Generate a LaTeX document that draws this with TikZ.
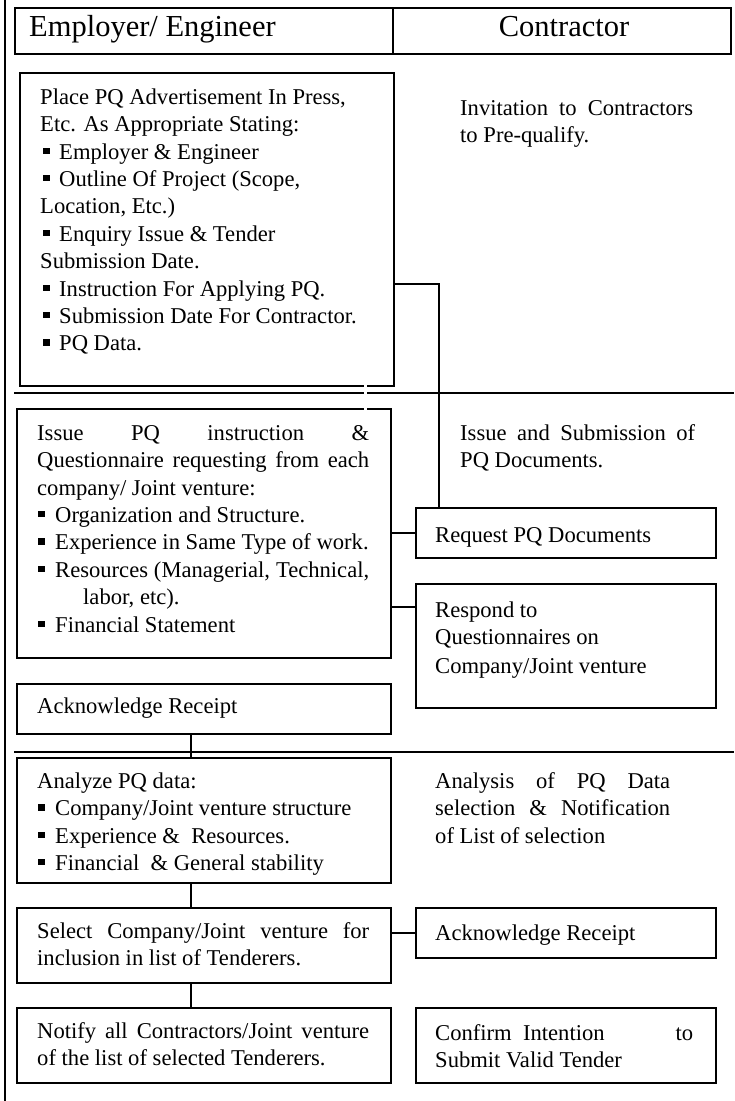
\documentclass[tikz,border=0pt]{standalone}
\usepackage{fontspec}
\setmainfont{Liberation Serif}
\newcommand\bodyf{\fontsize{22.6}{27.4}\selectfont}
\newcommand\headf{\fontsize{30.5}{34}\selectfont}
\newcommand\fl{\rule{0pt}{21pt}}
\newcommand\bua{\hspace*{3pt}\rule[5pt]{6.5pt}{6.5pt}\hspace{9.5pt}}
\newcommand\bub{\hspace*{1pt}\rule[5pt]{6.5pt}{6.5pt}\hspace{10.5pt}}
\newcommand\jl[2]{\makebox[#1pt][s]{#2}}
\begin{document}
\begin{tikzpicture}[x=1pt,y=-1pt,
  box/.style={draw, line width=1.8pt, inner sep=0pt, anchor=north west},
  txt/.style={anchor=north west, inner sep=0pt, align=left, font=\bodyf},
  link/.style={line width=1.8pt}]
\useasboundingbox (0,0) rectangle (734,1101);
\fill[white] (0,0) rectangle (734,1101);
% frame line and separators
\coordinate (fl0) at (5,0);
\coordinate (fl1) at (5,1101);
\draw[link] (fl0) -- (fl1);
\coordinate (s1a) at (14,393);
\coordinate (s1b) at (734,393);
\coordinate (s2a) at (14,752);
\coordinate (s2b) at (734,752);
\draw[link] (s1a) -- (s1b);
\draw[link] (s2a) -- (s2b);
% header
\node[box, minimum width=716pt, minimum height=46pt] (hd) at (14,7) {};
\coordinate (dv) at (393,0);
\draw[link] (hd.north -| dv) -- (hd.south -| dv);
\node[anchor=base west, inner sep=0pt, font=\headf] (h1) at (29,36) {Employer/ Engineer};
\node[anchor=base, inner sep=0pt, font=\headf] (h2) at (564,36) {Contractor};
% boxes
\node[box, minimum width=374pt, minimum height=313pt] (b1) at (19,72) {};
\node[box, minimum width=374pt, minimum height=249pt] (b2) at (16,408) {};
\node[box, minimum width=300pt, minimum height=50pt] (req) at (415,507) {};
\node[box, minimum width=300pt, minimum height=124pt] (resp) at (415,583) {};
\node[box, minimum width=374pt, minimum height=50pt] (ack1) at (16,683) {};
\node[box, minimum width=374pt, minimum height=125pt] (ana) at (16,757) {};
\node[box, minimum width=374pt, minimum height=75pt] (sel) at (16,907) {};
\node[box, minimum width=374pt, minimum height=75pt] (noti) at (16,1007) {};
\node[box, minimum width=300pt, minimum height=50pt] (ack2) at (415,907) {};
\node[box, minimum width=300pt, minimum height=75pt] (conf) at (415,1007) {};
% connectors
\coordinate (c1) at (439,284);
\draw[link] (b1.east |- c1) -- (c1) -- (c1 |- req.north);
\draw[link] (b2.east |- req.west) -- (req.west);
\coordinate (c2) at (415,607);
\draw[link] (b2.east |- c2) -- (resp.west |- c2);
\coordinate (c3) at (191,0);
\draw[link] (ack1.south -| c3) -- (ana.north -| c3);
\draw[link] (ana.south -| c3) -- (sel.north -| c3);
\draw[link] (sel.south -| c3) -- (noti.north -| c3);
\draw[link] (sel.east |- ack2.west) -- (ack2.west);
\coordinate (c4) at (365,0);
\draw[white, line width=3pt, shorten <=-2pt, shorten >=-2pt] (b1.south -| c4) -- (b2.north -| c4);
% texts
\node[txt] (t1) at (40,83) {\fl Place PQ Advertisement In Press,\\
Etc. As Appropriate Stating:\\
\bua Employer \& Engineer\\
\bua Outline Of Project (Scope,\\
Location, Etc.)\\
\bua Enquiry Issue \& Tender\\
Submission Date.\\
\bua Instruction For Applying PQ.\\
\bua Submission Date For Contractor.\\
\bua PQ Data.};
\node[txt] (t2) at (37,419) {\fl\jl{332}{Issue PQ instruction \&}\\
\jl{332}{Questionnaire requesting from each}\\
company/ Joint venture:\\
\bub Organization and Structure.\\
\bub Experience in Same Type of work.\\
\bub \jl{314}{Resources (Managerial, Technical,}\\
\hspace*{46pt}labor, etc).\\
\bub Financial Statement};
\node[txt] (t3) at (37,692) {\fl Acknowledge Receipt};
\node[txt] (t4) at (37,767) {\fl Analyze PQ data:\\
\bub Company/Joint venture structure\\
\bub Experience \&\ \ Resources.\\
\bub Financial\ \ \& General stability};
\node[txt] (t5) at (37,917) {\fl\jl{332}{Select Company/Joint venture for}\\
inclusion in list of Tenderers.};
\node[txt] (t6) at (37,1017) {\fl\jl{332}{Notify all Contractors/Joint venture}\\
of the list of selected Tenderers.};
\node[txt] (r1) at (460,94) {\fl\jl{233}{Invitation to Contractors}\\
to Pre-qualify.};
\node[txt] (r2) at (460,419) {\fl\jl{235}{Issue and Submission of}\\
PQ Documents.};
\node[txt] (r3) at (435,521) {\fl Request PQ Documents};
\node[txt] (r4) at (435,596) {\fl Respond to\\
Questionnaires on\\[1.5pt]
Company/Joint venture};
\node[txt] (r5) at (435,767) {\fl\jl{235}{Analysis of PQ Data}\\
\jl{235}{selection \& Notification}\\
of List of selection};
\node[txt] (r6) at (435,919) {\fl Acknowledge Receipt};
\node[txt] (r7) at (435,1019) {\fl\makebox[258pt][s]{Confirm\ \ Intention\hfill to}\\
Submit Valid Tender};
\end{tikzpicture}
\end{document}
